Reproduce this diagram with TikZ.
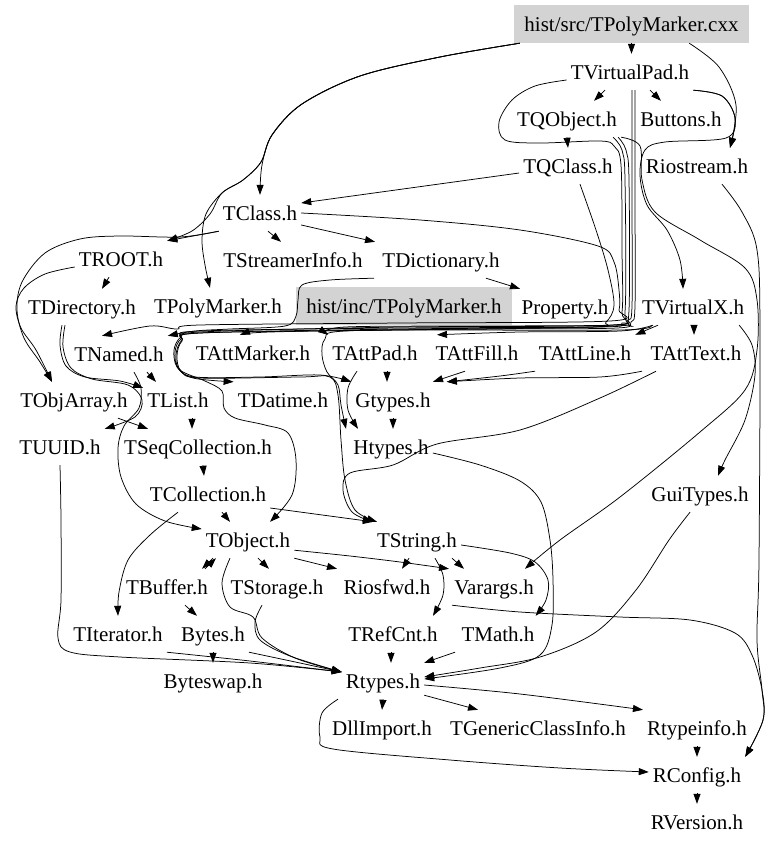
\documentclass[tikz,border=0pt]{standalone}
\usepackage{fontspec}
\setmainfont{Liberation Serif}
\usetikzlibrary{arrows.meta}
\definecolor{gfill}{RGB}{211,211,211}
\newcommand\myedge[1]{\draw[e] plot[smooth,tension=.55] coordinates {#1};}
\begin{document}
\begin{tikzpicture}[x=1pt,y=-1pt,
 n/.style={inner xsep=4pt,inner ysep=8pt,text height=17pt,text depth=3pt,font=\fontsize{21}{24}\selectfont},
 g/.style={n,fill=gfill,minimum height=38pt},
 e/.style={line width=0.75pt,-{Triangle[length=10pt,width=7pt]}}]
\fill[white] (0,0) rectangle (779,846);
\useasboundingbox (0,0) rectangle (779,846);
% nodes
\node[g,minimum width=235pt] (cxx) at (631.5,24) {hist/src/TPolyMarker.cxx};
\node[n] (vpad) at (630,72) {TVirtualPad.h};
\node[n] (qobj) at (567,119) {TQObject.h};
\node[n] (btn) at (681,119) {Buttons.h};
\node[n] (qcls) at (568,166) {TQClass.h};
\node[n] (rios) at (697,166) {Riostream.h};
\node[n] (tcls) at (260,213) {TClass.h};
\node[n] (troot) at (121,259) {TROOT.h};
\node[n] (tsinfo) at (293,260) {TStreamerInfo.h};
\node[n] (tdict) at (441,260) {TDictionary.h};
\node[n] (tdir) at (82,307) {TDirectory.h};
\node[n] (tpm) at (218,306) {TPolyMarker.h};
\node[g,minimum width=216pt] (hinc) at (404,306) {hist/inc/TPolyMarker.h};
\node[n] (prop) at (565,307) {Property.h};
\node[n] (vx) at (693,307) {TVirtualX.h};
\node[n] (tnamed) at (119,354) {TNamed.h};
\node[n] (attm) at (253,353) {TAttMarker.h};
\node[n] (attp) at (375,353) {TAttPad.h};
\node[n] (attf) at (477,353) {TAttFill.h};
\node[n] (attl) at (585,353) {TAttLine.h};
\node[n] (attt) at (696,353) {TAttText.h};
\node[n] (objarr) at (74,400) {TObjArray.h};
\node[n] (tlist) at (178,400) {TList.h};
\node[n] (tdatime) at (283,400) {TDatime.h};
\node[n] (gtypes) at (393,400) {Gtypes.h};
\node[n] (tuuid) at (60,447) {TUUID.h};
\node[n] (seqc) at (198,447) {TSeqCollection.h};
\node[n] (htypes) at (391,447) {Htypes.h};
\node[n] (tcoll) at (208,494) {TCollection.h};
\node[n] (guit) at (700,494) {GuiTypes.h};
\node[n] (tobj) at (248,540) {TObject.h};
\node[n] (tstr) at (417,540) {TString.h};
\node[n] (tbuf) at (167,587) {TBuffer.h};
\node[n] (tstor) at (277,587) {TStorage.h};
\node[n] (riosf) at (387,587) {Riosfwd.h};
\node[n] (vara) at (494,587) {Varargs.h};
\node[n] (titer) at (118,634) {TIterator.h};
\node[n] (bytes) at (213,634) {Bytes.h};
\node[n] (trefc) at (393,634) {TRefCnt.h};
\node[n] (tmath) at (498,634) {TMath.h};
\node[n] (bswap) at (213,681) {Byteswap.h};
\node[n] (rtypes) at (383,681) {Rtypes.h};
\node[n] (dll) at (382,728) {DllImport.h};
\node[n] (tgci) at (538,728) {TGenericClassInfo.h};
\node[n] (rtinfo) at (697,728) {Rtypeinfo.h};
\node[n] (rconf) at (697,775) {RConfig.h};
\node[n] (rver) at (697,822) {RVersion.h};
% top
\draw[e] (cxx.south) -- (cxx.south |- vpad.north);
\myedge{([xshift=6pt]cxx.south west) (440,57) (360,76) (302,104) (272,135) (262,165) (tcls.north)}
\myedge{([xshift=6pt]cxx.south west) (440,57) (360,76) (302,104) (272,135) (261,162) (243,180) (222,193) (210,214) (192,231) (troot.north east)}
\myedge{([xshift=6pt]cxx.south west) (440,57) (360,76) (302,104) (272,135) (261,162) (243,180) (222,193) (206,214) (202,240) (205,265) ([xshift=-8pt]tpm.north)}
\myedge{([xshift=-60pt]cxx.south east) (719,67) (736,105) ([xshift=33pt]rios.north)}
\myedge{(vpad.south east) (722,96) (735,118) ([xshift=33pt]rios.north)}
\draw[e] ([xshift=-25pt]vpad.south) -- ([xshift=27pt]qobj.north);
\draw[e] ([xshift=20pt]vpad.south) -- ([xshift=-20pt]btn.north);
\draw[e] (qobj.south) -- (qcls.north);
\draw[e] ([yshift=-7pt]qcls.west) -- ([yshift=10pt]tcls.east);
\draw[e] (tcls.south west) -- (troot.north east);
\draw[e] ([xshift=8pt]tcls.south) -- ([xshift=-12pt]tsinfo.north);
\draw[e] ([yshift=-12pt]tcls.east) -- ([xshift=-66pt]tdict.north);
\draw[e] ([xshift=45pt]tdict.south) -- ([xshift=-45pt]prop.north);
\draw[e] ([xshift=-12pt]troot.south) -- ([xshift=20pt]tdir.north);
% left
\myedge{(tcls.south west) (180,237) (120,236) (80,239) (45,253) (22,282) (17,310) (24,338) (40,362) ([xshift=-22pt]objarr.north)}
\myedge{([yshift=-8pt]troot.west) (45,274) (24,288) (16,306) (21,328) (36,350) ([xshift=-22pt]objarr.north)}
\myedge{([xshift=-20pt]tdir.south) (60,345) (66,366) (85,377) (120,381) ([yshift=12pt]tlist.west)}
\myedge{([xshift=-17pt]tdir.south) (63,347) (71,368) (92,379) (128,385) (142,400) (135,417) (tuuid.north east)}
\draw[e] ([xshift=28pt]tnamed.south) -- ([xshift=-22pt]tlist.north);
\myedge{([xshift=15pt]tnamed.south) (141,388) (139,408) (124,426) (118,448) (121,477) (136,504) (165,521) ([yshift=11pt]tobj.west)}
\draw[e] ([xshift=44pt]objarr.south) -- ([xshift=-50pt]seqc.north);
\draw[e] ([xshift=14pt]tlist.south) -- ([xshift=-6pt]seqc.north);
\draw[e] ([xshift=5pt]seqc.south) -- ([xshift=-4pt]tcoll.north);
\draw[e] ([xshift=14pt]tcoll.south) -- ([xshift=-18pt]tobj.north);
\draw[e] ([yshift=-14pt]tcoll.east) -- (tstr.north west);
\myedge{([xshift=-30pt]tcoll.south) (150,535) (128,560) (119,592) (titer.north)}
\myedge{(tuuid.south) (61,520) (61,600) (58,638) (70,652) (120,657) (250,663) ([yshift=9pt]rtypes.west)}
% bottom
\draw[e] ([xshift=-35pt]tobj.south) -- ([xshift=35pt]tbuf.north);
\draw[e] ([xshift=38pt]tbuf.north) -- ([xshift=-32pt]tobj.south);
\draw[e] ([xshift=10pt]tobj.south) -- ([xshift=-8pt]tstor.north);
\draw[e] (tobj.south east) -- ([xshift=-50pt]riosf.north);
\myedge{([yshift=8pt]tobj.south east) (350,556) (400,562) ([xshift=-45pt]vara.north)}
\draw[e] ([xshift=-8pt]tstr.south) -- ([xshift=15pt]riosf.north);
\draw[e] ([xshift=35pt]tstr.south) -- ([xshift=-30pt]vara.north);
\myedge{([xshift=18pt]tstr.south) (443,575) (443,595) ([xshift=40pt]trefc.north)}
\myedge{([yshift=-5pt]tstr.east) (510,553) (535,562) (548,580) (546,600) ([xshift=-3pt]tmath.north east)}
\myedge{([xshift=-15pt]tstor.south) (255,622) (260,640) (290,656) ([yshift=9pt]rtypes.west)}
\myedge{([xshift=-18pt]tobj.south) (222,583) (230,607) (253,617) (262,638) (295,658) ([yshift=9pt]rtypes.west)}
\draw[e] ([xshift=18pt]tbuf.south) -- ([xshift=-16pt]bytes.north);
\draw[e] (bytes.south) -- (bswap.north);
\myedge{(titer.south east) (250,661) ([yshift=9pt]rtypes.west)}
\myedge{(bytes.south east) (300,663) ([yshift=9pt]rtypes.west)}
\draw[e] ([xshift=-2pt]trefc.south) -- ([xshift=8pt]rtypes.north);
\draw[e] ([xshift=-43pt]tmath.south) -- (rtypes.north east);
\myedge{([yshift=-6pt]htypes.east) (480,465) (520,481) (541,502) (550,540) (553,580) (552,625) (540,655) (500,668) ([yshift=2pt]rtypes.east)}
\myedge{([xshift=-10pt]guit.south) (669,540) (636,590) (596,632) (540,657) (480,668) ([yshift=4pt]rtypes.east)}
\myedge{([xshift=-42pt]vara.south) (520,612) (620,617) (690,620) (735,633) (752,655) (762,690) (763,720) (rconf.north east)}
\myedge{([xshift=25pt]rios.south) (742,212) (757,250) (760,330) (759,560) (757,640) (762,690) (763,720) (rconf.north east)}
\draw[e] (rtypes.south) -- (dll.north);
\draw[e] ([yshift=4pt]rtypes.south east) -- ([xshift=-60pt]tgci.north);
\myedge{([yshift=-4pt]rtypes.east) (520,694) (rtinfo.north west)}
\myedge{([xshift=-45pt]rtypes.south) (322,713) (320,737) (333,749) (450,760) (560,768) ([yshift=3pt]rconf.west)}
\draw[e] (rtinfo.south) -- (rconf.north);
\draw[e] (rconf.south) -- (rver.north);
% right
\myedge{(vpad.south east) (722,96) (735,118) (726,138) (665,142) (645,150) (640,175) (647,205) (667,230) (680,260) ([xshift=-10pt]vx.north)}
\myedge{(qobj.south east) (640,146) (642,180) (655,212) (700,240) (745,268) (757,300) (757,350) (745,390) (700,432) (620,497) (560,540) ([xshift=31pt]vara.north)}
\myedge{([xshift=-9pt]vx.south east) (752,345) (755,375) (745,420) (725,460) ([xshift=18pt]guit.north)}
\draw[e] ([xshift=1pt]vx.south) -- ([xshift=-2pt]attt.north);
\draw[e] ([xshift=-35pt]vx.south) -- (attl.north east);
\myedge{([xshift=-40pt]vx.south) (620,331) (520,332) ([xshift=-40pt]attf.north)}
\myedge{([xshift=-42pt]vx.south) (620,330) (400,330) (270,332) ([xshift=-13pt]attm.north)}
% bundle
\myedge{([xshift=2pt]vpad.south) (632,200) (632,306) (628,320) (616,325) (500,326) (345,327) (attp.north west)}
\myedge{([xshift=5pt]vpad.south) (635,200) (635,306) (631,322) (617,328) (500,329) (345,331) (325,339) (322,355) (327,372) (338,385) (341,405) ([xshift=-45pt]htypes.north)}
\myedge{(tcls.east) (420,220) (520,230) (598,246) (614,262) (619,290) (619,310) (610,321) (400,323) (200,325) (177,329) (150,326) ([xshift=-17pt]tnamed.north)}
\myedge{([xshift=-67pt]tdict.south) (330,280) (302,285) (298,300) (296,316) (285,326) (230,329) (195,331) (tnamed.north east)}
\myedge{([xshift=-3pt]qobj.south east) (626,150) (629,180) (629,310) (622,323) (600,327) (400,328) (200,331) (181,337) (174,350) (177,367) (193,378) (tdatime.north west)}
\myedge{([yshift=-8pt]vpad.west) (535,86) (512,100) (499,122) (505,140) (540,143) (600,141) (614,146) (621,165) (622,250) (622,312) (612,325) (400,327) (200,332) (181,339) (175,352) (178,368) (195,377) (260,377) (320,375) (gtypes.north west)}
\myedge{([xshift=12pt]qcls.south) (596,230) (608,270) (614,305) (606,322) (590,327) (400,330) (200,333) (182,340) (176,355) (180,370) (205,381) (222,391) (224,408) (235,418) (265,425) (288,433) (296,460) (292,495) ([xshift=22pt]tobj.north)}
\myedge{([xshift=-8pt]qobj.south east) (622,150) (625,180) (625,312) (614,326) (400,329) (200,333) (182,341) (177,356) (181,371) (200,378) (300,377) (330,377) (338,395) (341,440) (345,480) (355,510) ([xshift=-40pt]tstr.north)}
\myedge{([xshift=-40pt]attt.south) (600,398) (520,430) (437,444) (393,465) (350,473) (343,490) (352,512) (tstr.north west)}
\draw[e] ([xshift=12pt]attp.south) -- ([xshift=-6pt]gtypes.north);
\myedge{([xshift=-18pt]attp.south) (348,388) (348,410) ([xshift=-33pt]htypes.north)}
\draw[e] ([xshift=-12pt]attf.south) -- ([xshift=40pt]gtypes.north);
\myedge{([xshift=-50pt]attl.south) (500,376) ([xshift=12pt]gtypes.north east)}
\myedge{([xshift=-54pt]attt.south) (600,377) (520,378) ([xshift=12pt]gtypes.north east)}
\draw[e] (gtypes.south) -- ([xshift=2pt]htypes.north);
\end{tikzpicture}
\end{document}
